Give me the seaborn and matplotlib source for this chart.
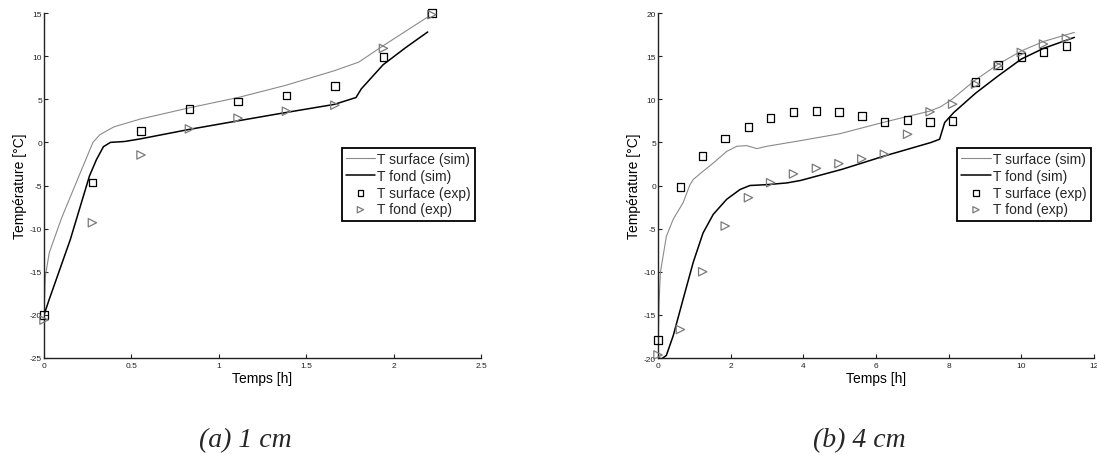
"""
Temperature evolution: simulation vs experiment, two thicknesses (1 cm, 4 cm).
"""

import numpy as np
import pandas as pd
import matplotlib
matplotlib.use('Agg')
import matplotlib.pyplot as plt
import seaborn as sns

# 1. Data

# (a) 1 cm - simulated curves
a_sim_surf_t = [0, 0.008, 0.03, 0.1, 0.2, 0.28, 0.32, 0.4, 0.55, 0.83, 1.11, 1.38, 1.66, 1.8, 1.94, 2.07, 2.2]
a_sim_surf_T = [-20, -15.5, -12.8, -8.8, -3.9, 0, 0.9, 1.8, 2.7, 4.0, 5.2, 6.6, 8.3, 9.3, 11.2, 12.9, 14.6]
a_sim_fond_t = [0, 0.03, 0.15, 0.26, 0.30, 0.34, 0.38, 0.46, 0.55, 0.83, 1.11, 1.38, 1.66, 1.785, 1.815, 1.94, 2.07, 2.195]
a_sim_fond_T = [-20, -18.2, -11.3, -3.9, -2.0, -0.5, 0, 0.1, 0.4, 1.5, 2.5, 3.45, 4.4, 5.2, 6.2, 9.0, 11.0, 12.8]

# (a) 1 cm - measurements
a_exp_t = [0, 0.277, 0.555, 0.832, 1.11, 1.387, 1.664, 1.942, 2.219]
a_exp_surf = [-20.0, -4.67, 1.33, 3.85, 4.74, 5.43, 6.56, 9.93, 15.0]
a_exp_fond = [-20.6, -9.32, -1.46, 1.56, 2.8, 3.61, 4.31, 10.9, 14.8]

# (b) 4 cm - simulated curves
b_sim_surf_t = [0, 0.015, 0.03, 0.065, 0.23, 0.42, 0.69, 0.88, 0.97, 1.24, 1.52, 1.89, 2.17, 2.44,
                2.72, 3.0, 3.92, 5.0, 6.23, 7.5, 7.79, 8.09, 8.74, 9.36, 10.0, 10.61, 11.46]
b_sim_surf_T = [-20, -16.5, -13.6, -10.1, -5.9, -3.9, -2.0, 0.1, 0.7, 1.65, 2.6, 3.95, 4.55, 4.62,
                4.28, 4.55, 5.2, 6.0, 7.35, 8.65, 9.15, 10.0, 12.25, 14.05, 15.6, 16.7, 17.75]
b_sim_fond_t = [0, 0.1, 0.23, 0.42, 0.69, 0.97, 1.24, 1.52, 1.89, 2.26, 2.53, 3.0, 3.55, 3.92,
                5.06, 6.23, 7.5, 7.75, 7.89, 8.14, 8.74, 9.36, 10.0, 10.61, 11.46]
b_sim_fond_T = [-20, -20.1, -19.7, -17.4, -13.2, -8.9, -5.5, -3.35, -1.6, -0.46, 0, 0.1, 0.3, 0.58,
                1.87, 3.42, 4.97, 5.36, 7.3, 8.46, 10.7, 12.7, 14.66, 15.9, 17.17]

# (b) 4 cm - measurements
b_exp_t = [0, 0.616, 1.23, 1.85, 2.49, 3.10, 3.73, 4.36, 4.98, 5.61, 6.23, 6.87, 7.49, 8.11,
           8.74, 9.36, 10.0, 10.61, 11.24]
b_exp_surf = [-17.9, -0.15, 3.42, 5.45, 6.79, 7.8, 8.54, 8.61, 8.54, 8.03, 7.34, 7.57, 7.34, 7.45,
              12.02, 13.96, 14.89, 15.5, 16.2]
b_exp_fond = [-19.65, -16.7, -10.0, -4.7, -1.42, 0.32, 1.34, 1.99, 2.53, 3.08, 3.62, 5.94, 8.54, 9.43,
              11.75, 13.88, 15.43, 16.4, 17.06]

# 2. Style
sns.set_style('ticks')
plt.rcParams['font.family'] = ['Liberation Sans', 'DejaVu Sans']
plt.rcParams['axes.unicode_minus'] = False

GREY_LINE = '#8a8a8a'
GREY_MARK = '#7a7a7a'
DARK = '#222222'

fig = plt.figure(figsize=(10.97, 4.56), dpi=100)
ax_a = fig.add_axes([44 / 1097, 97 / 456, 437 / 1097, 345 / 456])
ax_b = fig.add_axes([658 / 1097, 97 / 456, 436 / 1097, 345 / 456])


def draw(ax, st, sT, ft, fT, et, esurf, efond):
    sns.lineplot(x=st, y=sT, ax=ax, color=GREY_LINE, linewidth=0.8,
                 estimator=None, sort=False, label='T surface (sim)')
    sns.lineplot(x=ft, y=fT, ax=ax, color='black', linewidth=1.1,
                 estimator=None, sort=False, label='T fond (sim)')
    sns.scatterplot(x=et, y=esurf, ax=ax, marker='s', s=30, facecolor='none',
                    edgecolor='black', linewidth=0.9, label='T surface (exp)',
                    zorder=3, clip_on=False)
    sns.scatterplot(x=et, y=efond, ax=ax, marker='>', s=36, facecolor='none',
                    edgecolor=GREY_MARK, linewidth=0.9, label='T fond (exp)',
                    zorder=3, clip_on=False)


draw(ax_a, a_sim_surf_t, a_sim_surf_T, a_sim_fond_t, a_sim_fond_T, a_exp_t, a_exp_surf, a_exp_fond)
draw(ax_b, b_sim_surf_t, b_sim_surf_T, b_sim_fond_t, b_sim_fond_T, b_exp_t, b_exp_surf, b_exp_fond)

# 3. Axes
ax_a.set_xlim(0, 2.5)
ax_a.set_ylim(-25, 15)
ax_a.set_xticks(np.arange(0, 2.51, 0.5))
ax_a.set_xticklabels(['0', '0.5', '1', '1.5', '2', '2.5'])
ax_a.set_yticks(np.arange(-25, 16, 5))

ax_b.set_xlim(0, 12)
ax_b.set_ylim(-20, 20)
ax_b.set_xticks(np.arange(0, 13, 2))
ax_b.set_yticks(np.arange(-20, 21, 5))

for ax, lx in [(ax_a, 0.986), (ax_b, 0.992)]:
    sns.despine(ax=ax)
    for side in ['left', 'bottom']:
        ax.spines[side].set_color(DARK)
        ax.spines[side].set_linewidth(1.0)
    ax.tick_params(direction='in', length=3, width=0.8, labelsize=6,
                   colors=DARK, pad=1.5)
    ax.tick_params(axis='x', pad=3)
    ax.set_xlabel('Temps [h]', fontsize=10, color='black')
    ax.set_ylabel('Température [°C]', fontsize=10, color='black')
    ax.xaxis.set_label_coords(0.5, -0.039)
    ax.yaxis.set_label_coords(-0.04, 0.5)
    leg = ax.legend(loc='upper right', bbox_to_anchor=(lx, 0.609), fontsize=10,
                    frameon=True, fancybox=False, framealpha=1, edgecolor='black',
                    borderaxespad=0, borderpad=0.3, handlelength=2.1,
                    handletextpad=0.15, labelspacing=0.2, markerscale=0.75)
    leg.get_frame().set_linewidth(1.3)

# 4. Captions
cap_font = ['Liberation Serif', 'DejaVu Serif']
fig.text(245 / 1097, 1 - 447 / 456, '(a) 1 cm', ha='center', va='baseline',
         fontsize=20, style='italic', family=cap_font)
fig.text(859 / 1097, 1 - 447 / 456, '(b) 4 cm', ha='center', va='baseline',
         fontsize=20, style='italic', family=cap_font)

plt.savefig('out.png', dpi=100)
plt.close()
